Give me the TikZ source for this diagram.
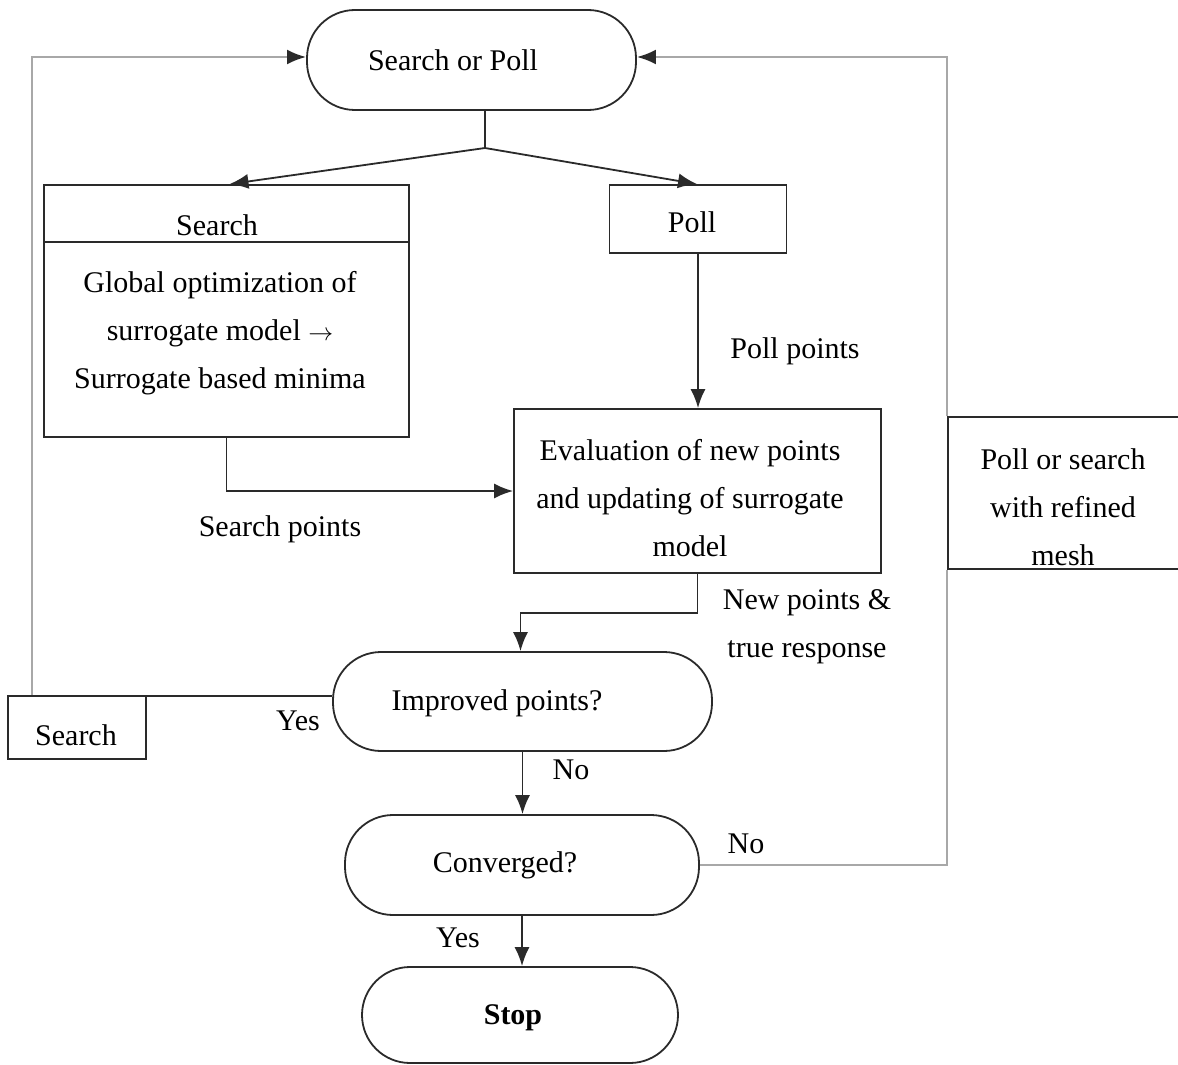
\documentclass[tikz,border=0pt]{standalone}
\usepackage{fontspec}
\setmainfont{Liberation Serif}
\usetikzlibrary{arrows.meta,calc}
\definecolor{dk}{HTML}{2A2A2A}
\definecolor{gr}{HTML}{A8A8A8}
\begin{document}
\begin{tikzpicture}[x=1pt,y=-1pt,
  every node/.style={font=\fontsize{30}{48}\selectfont, text=black},
  box/.style={draw=dk, line width=1.8pt, rectangle, inner sep=0pt},
  stadium/.style={draw=dk, line width=1.8pt, rectangle, rounded corners=48pt, inner sep=0pt},
  conn/.style={draw=dk, line width=1.8pt},
  gconn/.style={draw=gr, line width=2.4pt},
  tip/.style={-{Latex[length=19pt,width=15pt]}},
  gtip/.style={-{Latex[length=19pt,width=15pt,color=dk]}},
  lbl/.style={inner sep=0pt, align=center}
]
\useasboundingbox (0,0) rectangle (1178,1065);

% nodes
\node[stadium, minimum width=329pt, minimum height=100pt] (sop) at (471.5,60) {};
\node[lbl] (sopt) at (453,60) {Search or Poll};

\node[box, minimum width=365pt, minimum height=252pt] (searchbox) at (226.5,311) {};
\coordinate (divL) at (44,242);
\coordinate (divR) at (409,242);
\node[lbl] (searcht) at (217,225) {Search};
\node[lbl] (searchb) at (220,333) {Global optimization of\\ surrogate model $\rightarrow$\\ Surrogate based minima};

\node[box, minimum width=177pt, minimum height=68pt] (poll) at (698,219) {};
\node[lbl] (pollt) at (692,222) {Poll};

\node[box, minimum width=367pt, minimum height=164pt] (eval) at (697.5,491) {};
\node[lbl] (evalt) at (690,498) {Evaluation of new points\\ and updating of surrogate\\ model};

\node[stadium, minimum width=379pt, minimum height=99pt] (improved) at (522.5,701.5) {};
\node[lbl] (impt) at (497,703) {Improved points?};

\node[box, minimum width=138pt, minimum height=63pt] (smallsearch) at (77,727.5) {};
\node[lbl] (smallt) at (76,735) {Search};

\node[stadium, minimum width=354pt, minimum height=100pt] (converged) at (522,865) {};
\node[lbl] (convt) at (505,865) {Converged?};

\node[stadium, minimum width=316pt, minimum height=96pt] (stop) at (520,1015) {};
\node[lbl] (stopt) at (513,1018) {\bfseries Stop};

\node[box, minimum width=240pt, minimum height=152pt] (refined) at (1068,493) {};
\node[lbl] (reft) at (1063,507) {Poll or search\\ with refined\\ mesh};

% connectors
\draw[conn] (divL) -- (divR);
\coordinate (split) at (485,148);
\draw[conn] (split |- sop.south) -- (split);
\draw[conn,tip] (split) -- ($(searchbox.north)+(3,0)$);
\draw[conn,tip] (split) -- ($(poll.north)+(-1,0)$);
\draw[conn,tip] (poll.south) -- (poll.south |- eval.north);
\draw[conn,tip] (searchbox.south) |- (eval.west);
\draw[conn,tip] (eval.south) -- ++(0,39) -| ($(improved.north)+(-2,0)$);
\draw[conn,tip] (improved.south) -- (improved.south |- converged.north);
\draw[conn,tip] (converged.south) -- (converged.south |- stop.north);
\coordinate (impw) at ($(improved.west)+(0,-5.5)$);
\draw[conn] (impw) -- (impw -| smallsearch.east);
\draw[gconn,gtip] ($(smallsearch.north west)+(25,0)$) |- ($(sop.west)+(0,-3)$);
\draw[gconn] (converged.east) -| (refined.south west);
\draw[gconn,gtip] (refined.north west) |- ($(sop.east)+(0,-3)$);

% labels
\node[lbl] (lpoll) at (795,351) {Poll points};
\node[lbl] (lsearch) at (280,529) {Search points};
\node[lbl] (lnew) at (807,627) {New points \&\\ true response};
\node[lbl] (lyes1) at (298,721) {Yes};
\node[lbl] (lno1) at (571,770) {No};
\node[lbl] (lno2) at (746,844) {No};
\node[lbl] (lyes2) at (458,938) {Yes};
\end{tikzpicture}
\end{document}
